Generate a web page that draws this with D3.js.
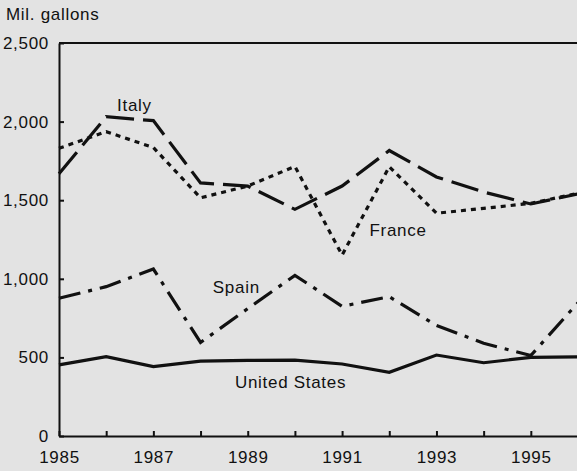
<!DOCTYPE html>
<html>
<head>
<meta charset="utf-8">
<script src="https://cdn.jsdelivr.net/npm/d3@7"></script>
<style>
  html, body { margin: 0; padding: 0; background: #e3e3e3; overflow: hidden; }
  svg { display: block; }
  text { font-family: "Liberation Sans", Arial, sans-serif; font-size: 17px; fill: #111; letter-spacing: 0.7px; }
</style>
</head>
<body>
<svg id="chart" width="577" height="471"></svg>
<script>
// wine consumption, million gallons
var years = [1985, 1986, 1987, 1988, 1989, 1990, 1991, 1992, 1993, 1994, 1995, 1996];
var usValues = [452, 505, 441, 476, 481, 483, 458, 405, 515, 466, 500, 504];
var spainValues = [876, 950, 1062, 595, 810, 1022, 825, 886, 703, 590, 512, 848];
var italyValues = [1668, 2031, 2006, 1610, 1590, 1442, 1590, 1816, 1648, 1552, 1476, 1540];
var franceValues = [1830, 1936, 1835, 1515, 1590, 1715, 1151, 1713, 1417, 1448, 1480, 1544];
var yTicks = [0, 500, 1000, 1500, 2000, 2500];

var svg = d3.select("#chart");

var xScale = d3.scaleLinear()
    .domain([1985, 1996])
    .range([59, 578]);
var yScale = d3.scaleLinear()
    .domain([0, 2500])
    .range([436, 43]);

// axes
var xAxis = d3.axisBottom(xScale)
    .tickValues(years)
    .tickSizeInner(-5)
    .tickSizeOuter(0)
    .tickPadding(15)
    .tickFormat(function(d) { return d % 2 == 1 ? d : ""; });
svg.append("g")
    .attr("transform", "translate(0," + yScale(0) + ")")
    .call(xAxis);

var yAxis = d3.axisLeft(yScale)
    .tickValues(yTicks)
    .tickSizeInner(-5)
    .tickSizeOuter(0)
    .tickPadding(10)
    .tickFormat(d3.format(","));
svg.append("g")
    .attr("transform", "translate(" + xScale(1985) + ",0)")
    .call(yAxis);

svg.selectAll(".domain, .tick line")
    .attr("stroke", "#111")
    .attr("stroke-width", 2);
svg.selectAll(".tick text")
    .style("font-size", "17px")
    .attr("fill", "#111");

// top frame line
svg.append("line")
    .attr("x1", xScale(1985)).attr("x2", xScale(1996))
    .attr("y1", yScale(2500)).attr("y2", yScale(2500))
    .attr("stroke", "#111")
    .attr("stroke-width", 2);

// series
var series = [
    {name: "United States", values: usValues, dash: null},
    {name: "Spain", values: spainValues, dash: "22,8,4,8"},
    {name: "Italy", values: italyValues, dash: "28,9"},
    {name: "France", values: franceValues, dash: "5,5"}
];

var line = d3.line()
    .x(function(d, i) { return xScale(years[i]); })
    .y(function(d) { return yScale(d); });

svg.selectAll("path.series")
    .data(series)
    .enter()
    .append("path")
    .attr("class", "series")
    .attr("d", function(d) { return line(d.values); })
    .attr("fill", "none")
    .attr("stroke", "#111")
    .attr("stroke-width", 3.2)
    .attr("stroke-dasharray", function(d) { return d.dash; });

// labels
var labels = [
    {text: "Italy", year: 1986.23, value: 2067},
    {text: "France", year: 1991.58, value: 1272},
    {text: "Spain", year: 1988.26, value: 910},
    {text: "United States", year: 1988.73, value: 305}
];
svg.selectAll("text.label")
    .data(labels)
    .enter()
    .append("text")
    .attr("class", "label")
    .attr("x", function(d) { return xScale(d.year); })
    .attr("y", function(d) { return yScale(d.value); })
    .text(function(d) { return d.text; });

svg.append("text")
    .attr("x", 6)
    .attr("y", 20)
    .text("Mil. gallons");
</script>
</body>
</html>
